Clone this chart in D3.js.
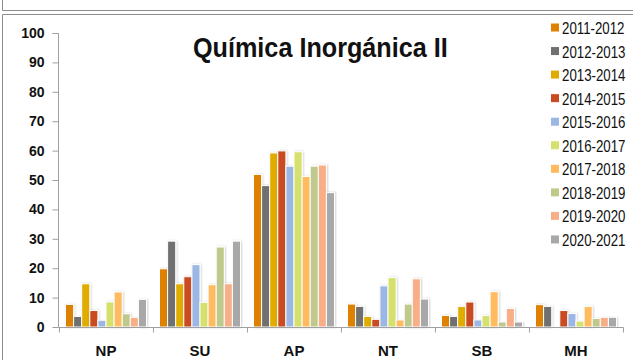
<!DOCTYPE html>
<html>
<head>
<meta charset="utf-8">
<script src="https://cdn.jsdelivr.net/npm/d3@7"></script>
<style>
  html, body { margin: 0; padding: 0; background: #fff; }
  svg { display: block; }
  .lbl { font-family: "Liberation Sans", Arial, sans-serif; }
</style>
</head>
<body>
<svg id="chart" width="633" height="360"></svg>
<script>
// Categories on the x axis
const categories = ["NP", "SU", "AP", "NT", "SB", "MH"];

// Academic years, one series each
const years = ["2011-2012", "2012-2013", "2013-2014", "2014-2015", "2015-2016",
               "2016-2017", "2017-2018", "2018-2019", "2019-2020", "2020-2021"];

// Percentages per category, one array per academic year (order follows categories)
const v2011 = [7.7, 19.8, 51.9, 7.8, 3.9, 7.6];
const v2012 = [3.6, 29.2, 48.1, 7.0, 3.6, 7.0];
const v2013 = [14.7, 14.7, 59.2, 3.6, 7.0, 0];
const v2014 = [5.6, 17.1, 59.9, 2.6, 8.5, 5.6];
const v2015 = [2.3, 21.2, 54.7, 14.0, 2.4, 4.6];
const v2016 = [8.5, 8.4, 59.6, 16.8, 3.9, 2.0];
const v2017 = [11.9, 14.4, 51.2, 2.4, 12.0, 7.0];
const v2018 = [4.5, 27.2, 54.7, 7.8, 1.7, 2.9];
const v2019 = [3.3, 14.7, 55.1, 16.4, 6.3, 3.3];
const v2020 = [9.4, 29.2, 45.7, 9.5, 1.7, 3.3];

// Y tick values
const yTicks = [0, 10, 20, 30, 40, 50, 60, 70, 80, 90, 100];

const seriesValues = [v2011, v2012, v2013, v2014, v2015, v2016, v2017, v2018, v2019, v2020];
const colors = ["#DE8100", "#707070", "#E1AC00", "#C94B20", "#9CB7E4",
                "#D6E06C", "#FFBB60", "#C0C98C", "#F8AF88", "#A8A8A8"];

const svg = d3.select("#chart");

// Frame lines
const frame = svg.append("g").attr("stroke", "#8c8c8c").attr("stroke-width", 1).attr("fill", "none");
frame.append("path").attr("d", "M2.5,0 V10.5 H633");
frame.append("path").attr("d", "M2.5,360 V14.5 H633");

// Soft drop shadow for the bars
const defs = svg.append("defs");
const f = defs.append("filter").attr("id", "shadow").attr("x", "-30%").attr("y", "-10%").attr("width", "160%").attr("height", "120%");
f.append("feDropShadow").attr("dx", 1).attr("dy", 0).attr("stdDeviation", 0.8)
  .attr("flood-color", "#000").attr("flood-opacity", 0.18);

const x0 = d3.scaleBand().domain(categories).range([59, 623]);
const x1 = d3.scaleBand().domain(years).range([6.5, x0.bandwidth() - 6.5]);
const y = d3.scaleLinear().domain([0, 100]).range([327, 33]);

// Bars
const groups = svg.append("g").selectAll("g")
  .data(categories)
  .join("g")
  .attr("transform", c => `translate(${x0(c)},0)`);

groups.selectAll("rect")
  .data((c, ci) => years.map((yr, si) => ({ yr, si, v: seriesValues[si][ci] })))
  .join("rect")
  .filter(d => d.v > 0)
  .attr("x", d => x1(d.yr))
  .attr("y", d => y(d.v))
  .attr("width", x1.bandwidth())
  .attr("height", d => y(0) - y(d.v))
  .attr("fill", d => colors[d.si])
  .attr("stroke", "#fff")
  .attr("stroke-width", 1)
  .attr("filter", "url(#shadow)");

// Y axis
const yAxis = d3.axisLeft(y).tickValues(yTicks).tickSize(6).tickPadding(8);
const gy = svg.append("g").attr("transform", "translate(58.5,0)").call(yAxis);
gy.select(".domain").attr("stroke", "#a0a0a0").attr("d", "M-6,33.5 H0 V327.5");
gy.selectAll(".tick line").attr("stroke", "#a0a0a0");
gy.selectAll(".tick text")
  .attr("class", "lbl")
  .attr("font-size", 14).attr("font-weight", "bold").attr("fill", "#111");

// X axis with category tick marks at band edges
const gx = svg.append("g").attr("transform", "translate(0,327.5)");
gx.append("line").attr("x1", 58.5).attr("x2", 623.5).attr("stroke", "#a0a0a0");
gx.selectAll("line.tk")
  .data(categories.map(c => x0(c)).concat([x0.range()[1]]))
  .join("line").attr("class", "tk")
  .attr("x1", d => Math.round(d) + 0.5).attr("x2", d => Math.round(d) + 0.5)
  .attr("y1", 0).attr("y2", 5).attr("stroke", "#a0a0a0");
gx.selectAll("text")
  .data(categories)
  .join("text")
  .attr("class", "lbl")
  .attr("x", c => x0(c) + x0.bandwidth() / 2)
  .attr("y", 28)
  .attr("text-anchor", "middle")
  .attr("font-size", 15).attr("font-weight", "bold").attr("fill", "#111")
  .text(c => c);

// Title (slightly condensed)
svg.append("text")
  .attr("class", "lbl")
  .attr("transform", "translate(193,57) scale(0.9,1)")
  .attr("font-size", 28).attr("font-weight", "bold").attr("fill", "#111")
  .text("Química Inorgánica II");

// Legend
const lg = svg.append("g").selectAll("g")
  .data(years)
  .join("g")
  .attr("transform", (d, i) => `translate(551,${34 + i * 23.55})`);
lg.append("rect").attr("x", 0).attr("y", -10.5).attr("width", 8).attr("height", 8)
  .attr("fill", (d, i) => colors[i]);
lg.append("text")
  .attr("class", "lbl")
  .attr("transform", "translate(11,0) scale(0.83,1)")
  .attr("font-size", 16).attr("fill", "#111")
  .text(d => d);
</script>
</body>
</html>
